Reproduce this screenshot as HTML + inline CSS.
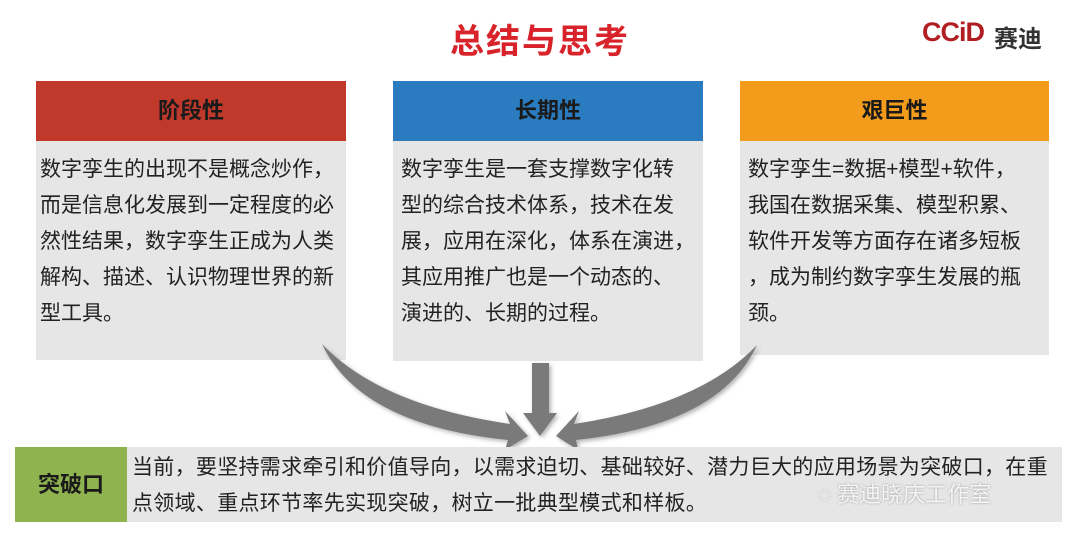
<!DOCTYPE html>
<html><head><meta charset="utf-8"><style>
*{margin:0;padding:0;box-sizing:border-box}
body{width:1080px;height:540px;background:#fff;position:relative;overflow:hidden;font-family:"Liberation Sans","Noto Sans CJK SC",sans-serif}
.a{position:absolute}
.hd{position:absolute;height:60px;line-height:60px;text-align:center;font-weight:bold;font-size:22px;color:#1a1a1a}
.bd{position:absolute;background:#e6e6e6;font-size:21px;line-height:36px;color:#222;padding:11px 0 0 4px;white-space:nowrap}
</style></head><body>
<div class="a" style="left:0;top:14px;width:1080px;text-align:center;font-size:34px;font-weight:bold;color:#d8232a;letter-spacing:2px">总结与思考</div>
<div class="a" style="left:922px;top:17px;font-size:27px;font-weight:bold;color:#b01e23;letter-spacing:-1px">CCiD</div>
<div class="a" style="left:994px;top:19px;font-size:24px;font-weight:bold;color:#333">赛迪</div>

<div class="hd" style="left:36px;top:81px;width:310px;background:#c0392b">阶段性</div>
<div class="bd" style="left:36px;top:141px;width:310px;height:219px">数字孪生的出现不是概念炒作，<br>而是信息化发展到一定程度的必<br>然性结果，数字孪生正成为人类<br>解构、描述、认识物理世界的新<br>型工具。</div>

<div class="hd" style="left:393px;top:81px;width:310px;background:#2a7bbf">长期性</div>
<div class="bd" style="left:393px;top:141px;width:310px;height:220px;padding-left:8px">数字孪生是一套支撑数字化转<br>型的综合技术体系，技术在发<br>展，应用在深化，体系在演进，<br>其应用推广也是一个动态的、<br>演进的、长期的过程。</div>

<div class="hd" style="left:740px;top:81px;width:309px;background:#f39c1b">艰巨性</div>
<div class="bd" style="left:740px;top:141px;width:309px;height:214px;padding-left:8px">数字孪生=数据+模型+软件，<br>我国在数据采集、模型积累、<br>软件开发等方面存在诸多短板<br>，成为制约数字孪生发展的瓶<br>颈。</div>

<svg class="a" style="left:0;top:0" width="1080" height="540">
<defs><filter id="s"><feDropShadow dx="2" dy="2" stdDeviation="2" flood-opacity="0.3"/></filter></defs>
<g fill="#7a7a7a" filter="url(#s)">
<path d="M322,344 Q380,405 510,424 L505,411 L528,436 L505,450 L508,440 Q360,425 322,344Z"/>
<rect x="532" y="363" width="17" height="52"/>
<path d="M523,413 L557,413 L540,436Z"/>
<path d="M757,345 Q700,405 574,424 L579,411 L556,436 L578,450 L576,440 Q720,425 757,345Z"/>
</g>
</svg>

<div class="a" style="left:15px;top:447px;width:112px;height:75px;background:#8fb34f;font-size:22px;font-weight:bold;line-height:75px;text-align:center;color:#1a1a1a">突破口</div>
<div class="a" style="left:127px;top:447px;width:935px;height:75px;background:#e6e6e6;font-size:21px;line-height:36px;color:#222;padding:3px 0 0 5px;white-space:nowrap;letter-spacing:0.3px">当前，要坚持需求牵引和价值导向，以需求迫切、基础较好、潜力巨大的应用场景为突破口，在重<br>点领域、重点环节率先实现突破，树立一批典型模式和样板。</div>
<div class="a" style="left:818px;top:477px;font-size:22px;color:rgba(255,255,255,0.85);text-shadow:0 0 2px #999">◌ 赛迪晓庆工作室</div>
</body></html>
